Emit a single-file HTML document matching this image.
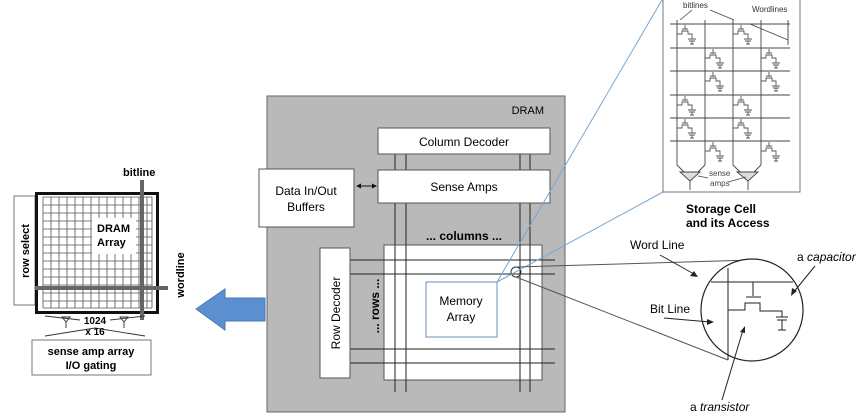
<!DOCTYPE html>
<html><head><meta charset="utf-8"><style>
html,body{margin:0;padding:0;background:#fff;}
svg{display:block;font-family:"Liberation Sans",sans-serif;}
</style></head><body>
<svg width="862" height="418" viewBox="0 0 862 418" xmlns="http://www.w3.org/2000/svg">
<defs>
<g id="cell" fill="none" stroke="#555" stroke-width="0.9">
<path d="M0,10 H5 V7 H11 V10 H15 V15"/><path d="M5,5 H11 M8,5 V1"/>
<path d="M11,15 H19 M12,17 H18 M15,17 V20 M13,20 H17"/>
</g>
</defs>
<!-- left block -->
<rect x="14" y="196" width="21" height="109" fill="#fff" stroke="#777" stroke-width="1"/>
<text transform="translate(29,251) rotate(-90)" font-size="11" font-weight="bold" text-anchor="middle">row select</text>
<g stroke="#555" stroke-width="0.8">
<path d="M43,197V308M51,197V308M59,197V308M67,197V308M75,197V308M83,197V308M91,197V308M99,197V308M107,197V308M115,197V308M123,197V308M131,197V308M139,197V308M147,197V308M152,197V308"/>
<path d="M43,197H152M43,205H152M43,213H152M43,221H152M43,229H152M43,237H152M43,245H152M43,253H152M43,261H152M43,269H152M43,277H152M43,285H152M43,293H152M43,301H152M43,308H152"/>
</g>
<rect x="92" y="218" width="44" height="36" fill="#fff"/>
<text x="97" y="232" font-size="11" font-weight="bold">DRAM</text>
<text x="97" y="246" font-size="11" font-weight="bold">Array</text>
<rect x="36.5" y="193.5" width="121" height="119" fill="none" stroke="#111" stroke-width="3"/>
<line x1="142" y1="180" x2="142" y2="320" stroke="#666" stroke-width="4"/>
<line x1="35" y1="288" x2="168" y2="288" stroke="#666" stroke-width="4"/>
<text x="123" y="176" font-size="11" font-weight="bold">bitline</text>
<text transform="translate(184,275) rotate(-90)" font-size="11" font-weight="bold" text-anchor="middle">wordline</text>
<g fill="none" stroke="#333" stroke-width="0.9">
<path d="M45,316 L80,320 M110,320 L145,316"/><path d="M45,336 L95,328 L145,336"/>
<path d="M62,317 H70 L66,322 Z M66,322 V328"/><path d="M120,317 H128 L124,322 Z M124,322 V328"/>
</g>
<text x="95" y="324" font-size="10" font-weight="bold" text-anchor="middle">1024</text>
<text x="95" y="335" font-size="10" font-weight="bold" text-anchor="middle">x 16</text>
<rect x="32" y="340" width="119" height="35" fill="#fff" stroke="#777"/>
<text x="91" y="355" font-size="11" font-weight="bold" text-anchor="middle">sense amp array</text>
<text x="91" y="369" font-size="11" font-weight="bold" text-anchor="middle">I/O gating</text>
<!-- blue arrow -->
<path d="M196,309 L225,289 L225,298 L265,298 L265,321 L225,321 L225,330 Z" fill="#5b8fcf" stroke="#4a7ab5"/>
<!-- DRAM box -->
<rect x="267" y="96" width="298" height="316" fill="#b9b9b9" stroke="#666"/>
<text x="544" y="114" font-size="11" text-anchor="end">DRAM</text>
<g stroke="#222" stroke-width="1">
<path d="M395,154V392M406,154V392M520,154V392M530,154V392"/>
</g>
<rect x="384" y="245" width="158" height="135" fill="#fff" stroke="#555"/>
<g stroke="#222" stroke-width="1">
<path d="M395,245V392M406,245V392M520,245V392M530,245V392"/>
<path d="M350,260H555M350,274H555M350,349H555M350,363H555"/>
</g>
<rect x="378" y="128" width="172" height="26" fill="#fff" stroke="#555"/>
<text x="464" y="146" font-size="12" text-anchor="middle">Column Decoder</text>
<rect x="378" y="170" width="172" height="33" fill="#fff" stroke="#555"/>
<text x="464" y="191" font-size="12" text-anchor="middle">Sense Amps</text>
<rect x="259" y="169" width="95" height="58" fill="#fff" stroke="#555"/>
<text x="306" y="195" font-size="12" text-anchor="middle">Data In/Out</text>
<text x="306" y="211" font-size="12" text-anchor="middle">Buffers</text>
<path d="M357,186H376" stroke="#111"/><path d="M356,186 l5,-2.5 v5z M377,186 l-5,-2.5 v5z" fill="#111"/>
<text x="464" y="240" font-size="12" font-weight="bold" text-anchor="middle">... columns ...</text>
<rect x="320" y="248" width="30" height="130" fill="#fff" stroke="#555"/>
<text transform="translate(340,313) rotate(-90)" font-size="12" text-anchor="middle">Row Decoder</text>
<text transform="translate(379,306) rotate(-90)" font-size="12" font-weight="bold" text-anchor="middle">... rows ...</text>
<rect x="426" y="282" width="71" height="55" fill="#fff" stroke="#6a8fbf"/>
<text x="461" y="305" font-size="12" text-anchor="middle">Memory</text>
<text x="461" y="321" font-size="12" text-anchor="middle">Array</text>
<circle cx="516" cy="272" r="5" fill="none" stroke="#333"/>
<!-- zoom lines -->
<g stroke="#7aa6d0" stroke-width="1"><line x1="497" y1="282" x2="662" y2="0"/><line x1="497" y1="282" x2="663" y2="192"/></g>
<g stroke="#555" stroke-width="1"><line x1="516" y1="267" x2="752" y2="260"/><line x1="516" y1="277" x2="728" y2="360"/></g>
<!-- storage cell box -->
<rect x="663" y="-2" width="137" height="194" fill="#fff" stroke="#777"/>
<g stroke="#444" stroke-width="0.9">
<path d="M670,24H790M670,48H790M670,71H790M670,95H790M670,118H790M670,141H790"/>
<path d="M677,20V165M705,20V165M733,20V165M761,20V165"/>
<path d="M683,20V165M739,20V165" stroke="none"/>
<path d="M677,165L684,172M705,165L698,172M733,165L740,172M761,165L754,172" fill="none"/>
<path d="M680,172L700,172L690,181ZM690,181V190 M737,172L758,172L748,181ZM748,181V190" fill="#ddd"/>
<path d="M750,24 L788,40 M788,20 V45" fill="none"/>
</g>
<use href="#cell" x="677" y="24"/><use href="#cell" x="733" y="24"/>
<use href="#cell" x="705" y="48"/><use href="#cell" x="761" y="48"/>
<use href="#cell" x="705" y="71"/><use href="#cell" x="761" y="71"/>
<use href="#cell" x="677" y="95"/><use href="#cell" x="733" y="95"/>
<use href="#cell" x="677" y="118"/><use href="#cell" x="733" y="118"/>
<use href="#cell" x="705" y="141"/><use href="#cell" x="761" y="141"/>
<g stroke="#444" stroke-width="0.8"><line x1="692" y1="10" x2="680" y2="20"/><line x1="710" y1="10" x2="734" y2="20"/>
<line x1="708" y1="178" x2="698" y2="176"/><line x1="728" y1="182" x2="746" y2="177"/></g>
<text x="683" y="8" font-size="8" fill="#333">bitlines</text>
<text x="752" y="12" font-size="8" fill="#333">Wordlines</text>
<text x="709" y="176" font-size="8" fill="#444">sense</text>
<text x="710" y="186" font-size="8" fill="#444">amps</text>
<text x="686" y="213" font-size="12" font-weight="bold">Storage Cell</text>
<text x="686" y="227" font-size="12" font-weight="bold">and its Access</text>
<!-- circle detail -->
<circle cx="752" cy="310" r="51" fill="#fff" stroke="#222" stroke-width="1.2"/>
<g stroke="#222" stroke-width="1" fill="none">
<path d="M711,282H793"/><path d="M728,268V360"/>
<path d="M753,282V296 M746,297H761"/>
<path d="M728,310H745V303H760V311H782V317 M776,317H788 M777,320H787 M782,320V330 M778,330H786"/>
</g>
<g stroke="#222" stroke-width="1">
<line x1="660" y1="255" x2="694" y2="274"/><line x1="664" y1="318" x2="710" y2="322"/>
<line x1="815" y1="266" x2="793" y2="293"/><line x1="722" y1="400" x2="743" y2="330"/>
</g>
<path d="M698,277 l-8,-1 4,-5z M714,322 l-7,-3 0,6z M791,296 l1,-8 5,3z M745,326 l-5,6 5,1z" fill="#222"/>
<text x="630" y="249" font-size="12">Word Line</text>
<text x="797" y="261" font-size="12">a <tspan font-style="italic">capacitor</tspan></text>
<text x="650" y="313" font-size="12">Bit Line</text>
<text x="690" y="411" font-size="12">a <tspan font-style="italic">transistor</tspan></text>
</svg>
</body></html>
